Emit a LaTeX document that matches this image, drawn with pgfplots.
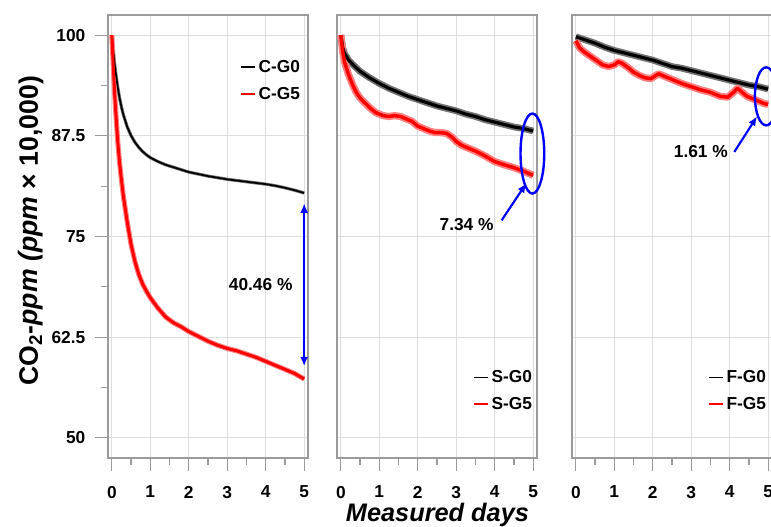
\documentclass[border=0pt]{standalone}
\usepackage{fontspec}
\setmainfont{Liberation Sans}
\usepackage{pgfplots}
\usepackage{pgfplotstable}
\pgfplotsset{compat=1.18}
\usetikzlibrary{arrows.meta}
\definecolor{framegray}{RGB}{155,155,155}
\definecolor{gridgray}{RGB}{222,222,222}

\pgfplotstableread{
x y
0 100
0.025 98.64
0.05 97.43
0.075 96.33
0.1 95.34
0.15 93.64
0.2 92.23
0.25 91.07
0.3 90.11
0.4 88.61
0.5 87.52
0.6 86.7
0.7 86.07
0.8 85.55
0.9 85.14
1.0 84.79
1.2 84.3
1.4 83.9
1.6 83.6
1.8 83.3
2.0 83.0
2.25 82.75
2.5 82.5
2.75 82.3
3.0 82.1
3.25 81.95
3.5 81.8
3.75 81.65
4.0 81.5
4.25 81.3
4.5 81.05
4.75 80.75
5.0 80.4
}\CGzero

\pgfplotstableread{
x y
0 100
0.025 97.4
0.05 94.9
0.075 92.6
0.1 90.6
0.15 87.0
0.2 84.2
0.25 82.0
0.3 80.0
0.4 76.8
0.5 74.0
0.6 71.9
0.7 70.3
0.8 69.1
0.9 68.2
1.0 67.4
1.2 66.1
1.4 65.0
1.6 64.3
1.8 63.8
2.0 63.2
2.25 62.6
2.5 62.0
2.75 61.5
3.0 61.1
3.25 60.8
3.5 60.4
3.75 60.0
4.0 59.5
4.25 59.0
4.5 58.5
4.75 58.0
5.0 57.3
}\CGfive

\pgfplotstableread{
x y
0 100
0.05 98.4
0.1 97.7
0.2 96.9
0.3 96.4
0.5 95.5
0.75 94.7
1.0 94.0
1.25 93.4
1.5 92.9
1.75 92.4
2.0 92.0
2.25 91.6
2.5 91.2
2.75 90.9
3.0 90.6
3.25 90.2
3.5 89.9
3.75 89.5
4.0 89.2
4.25 88.9
4.5 88.6
4.75 88.4
5.0 88.1
}\SGzero

\pgfplotstableread{
x y
0 100
0.05 97.9
0.1 96.6
0.2 95.1
0.3 93.9
0.4 92.9
0.5 92.2
0.6 91.7
0.75 91.0
0.9 90.4
1.0 90.2
1.1 90.0
1.25 89.9
1.4 90.0
1.55 89.9
1.7 89.6
1.85 89.3
2.0 88.7
2.15 88.4
2.3 88.1
2.45 87.9
2.6 87.9
2.75 87.8
2.9 87.3
3.0 86.8
3.15 86.3
3.3 86.0
3.5 85.6
3.75 85.0
4.0 84.3
4.25 83.9
4.5 83.55
4.75 83.1
5.0 82.6
}\SGfive

\pgfplotstableread{
x y
0 99.8
0.25 99.4
0.5 99.0
0.75 98.5
1.0 98.1
1.25 97.8
1.5 97.5
1.75 97.2
2.0 96.9
2.25 96.5
2.5 96.1
2.75 95.9
3.0 95.6
3.25 95.3
3.5 95.0
3.75 94.7
4.0 94.4
4.25 94.1
4.5 93.8
4.75 93.6
5.0 93.3
}\FGzero

\pgfplotstableread{
x y
0 99.3
0.1 98.4
0.25 97.8
0.4 97.3
0.55 96.8
0.7 96.3
0.85 96.1
1.0 96.3
1.1 96.7
1.2 96.5
1.35 96.0
1.5 95.4
1.65 95.0
1.8 94.7
1.95 94.6
2.05 94.9
2.15 95.2
2.3 94.9
2.5 94.5
2.75 94.0
3.0 93.6
3.25 93.2
3.5 92.9
3.75 92.4
3.95 92.3
4.1 92.9
4.2 93.4
4.3 93.0
4.45 92.4
4.6 92.1
4.75 91.8
4.9 91.5
5.0 91.4
}\FGfive

\pgfplotsset{
  panel/.style={
    scale only axis, width=150pt, height=332.25pt,
    xmin=-0.1, xmax=5.1, ymin=47.5, ymax=102.5,
    xtick={0,1,2,3,4,5}, minor xtick={0.5,1.5,2.5,3.5,4.5},
    ytick={50,62.5,75,87.5,100},
    grid=major, major grid style={gridgray, line width=0.7pt},
    axis line style={framegray, line width=0.9pt},
    tick style={framegray, line width=0.9pt},
    tick align=outside, tick pos=left,
    major tick length=10pt, minor tick length=5pt,
    ticklabel style={font=\fontsize{13}{15}\selectfont\bfseries},
    xticklabel style={yshift=-7.5pt},
    yticklabel style={xshift=-3.5pt},
    /pgf/number format/assume math mode=true,
    clip=false,
    legend cell align=left,
    legend style={draw=none, fill=none, inner sep=0pt, row sep=5.6pt,
      font=\fontsize{13}{15}\selectfont\bfseries},
  },
  noyt/.style={yticklabels={}, ytick style={draw=none}},
  blackleg/.style={legend image code/.code={\draw[black, line width=0.9pt] (0pt,0pt) -- (10.5pt,0pt);}},
  redleg/.style={legend image code/.code={\draw[red, line width=0.9pt] (0pt,0pt) -- (10.5pt,0pt);}},
}

\begin{document}
\begin{tikzpicture}
% Panel 1
\begin{axis}[panel, at={(81pt,51.75pt)}, anchor=south west,
  minor ytick={56.25,68.75,81.25,93.75},
  legend style={at={(0.975,0.905)}, anchor=north east}]
\addlegendimage{blackleg}
\addlegendentry{C-G0}
\addlegendimage{redleg}
\addlegendentry{C-G5}
\addplot[black!55, line width=2.4pt, line join=round, forget plot] table {\CGzero};
\addplot[red!50, line width=3.8pt, line join=round, forget plot] table {\CGfive};
\addplot[black, line width=1.3pt, line join=round, forget plot] table {\CGzero};
\addplot[red, line width=2.2pt, line join=round, forget plot] table {\CGfive};
\draw[blue, line width=1.6pt, {Latex[length=7pt,width=6pt]}-{Latex[length=7pt,width=6pt]}] (axis cs:5,79.1) -- (axis cs:5,58.9);
\node[font=\fontsize{13}{15}\selectfont\bfseries] at (axis cs:3.87,69.0) {40.46 \%};
\end{axis}
% Panel 2
\begin{axis}[panel, noyt, at={(252.75pt,51.75pt)}, anchor=south west,
  legend style={at={(0.99,0.205)}, anchor=north east}]
\addlegendimage{blackleg}
\addlegendentry{S-G0}
\addlegendimage{redleg}
\addlegendentry{S-G5}
\addplot[black!55, line width=5pt, line join=round, forget plot] table {\SGzero};
\addplot[red!50, line width=5.4pt, line join=round, forget plot] table {\SGfive};
\addplot[black, line width=2.4pt, line join=round, forget plot] table {\SGzero};
\addplot[red, line width=2.6pt, line join=round, forget plot] table {\SGfive};
\draw[blue, line width=1.8pt] (axis cs:4.98,85.3) ellipse [x radius=8.9pt, y radius=30pt];
\draw[blue, line width=1.6pt, -{Latex[length=7pt,width=6pt]}] (axis cs:4.18,77.0) -- (axis cs:4.82,81.6);
\node[font=\fontsize{13}{15}\selectfont\bfseries] at (axis cs:3.27,76.5) {7.34 \%};
\end{axis}
% Panel 3
\begin{axis}[panel, noyt, at={(429pt,51.75pt)}, anchor=south west,
  legend style={at={(0.985,0.205)}, anchor=north east}]
\addlegendimage{blackleg}
\addlegendentry{F-G0}
\addlegendimage{redleg}
\addlegendentry{F-G5}
\addplot[black!55, line width=5pt, line join=round, forget plot] table {\FGzero};
\addplot[red!50, line width=5.4pt, line join=round, forget plot] table {\FGfive};
\addplot[black, line width=2.4pt, line join=round, forget plot] table {\FGzero};
\addplot[red, line width=2.6pt, line join=round, forget plot] table {\FGfive};
\draw[blue, line width=1.8pt] (axis cs:4.95,92.4) ellipse [x radius=8.5pt, y radius=21.75pt];
\draw[blue, line width=1.6pt, -{Latex[length=7pt,width=6pt]}] (axis cs:4.12,85.5) -- (axis cs:4.71,89.9);
\node[font=\fontsize{13}{15}\selectfont\bfseries] at (axis cs:3.25,85.5) {1.61 \%};
\end{axis}
\node[rotate=90, font=\fontsize{20}{24}\selectfont\bfseries] at (23.25pt,222.4pt)
  {CO\textsubscript{2}-\textit{ppm (ppm} × 10,000)};
\node[anchor=base, font=\fontsize{19}{23}\selectfont\bfseries\itshape] at (328.1pt,3.9pt) {Measured days};
\pgfresetboundingbox
\path[use as bounding box] (0pt,0pt) rectangle (578.25pt,395.25pt);
\end{tikzpicture}
\end{document}
